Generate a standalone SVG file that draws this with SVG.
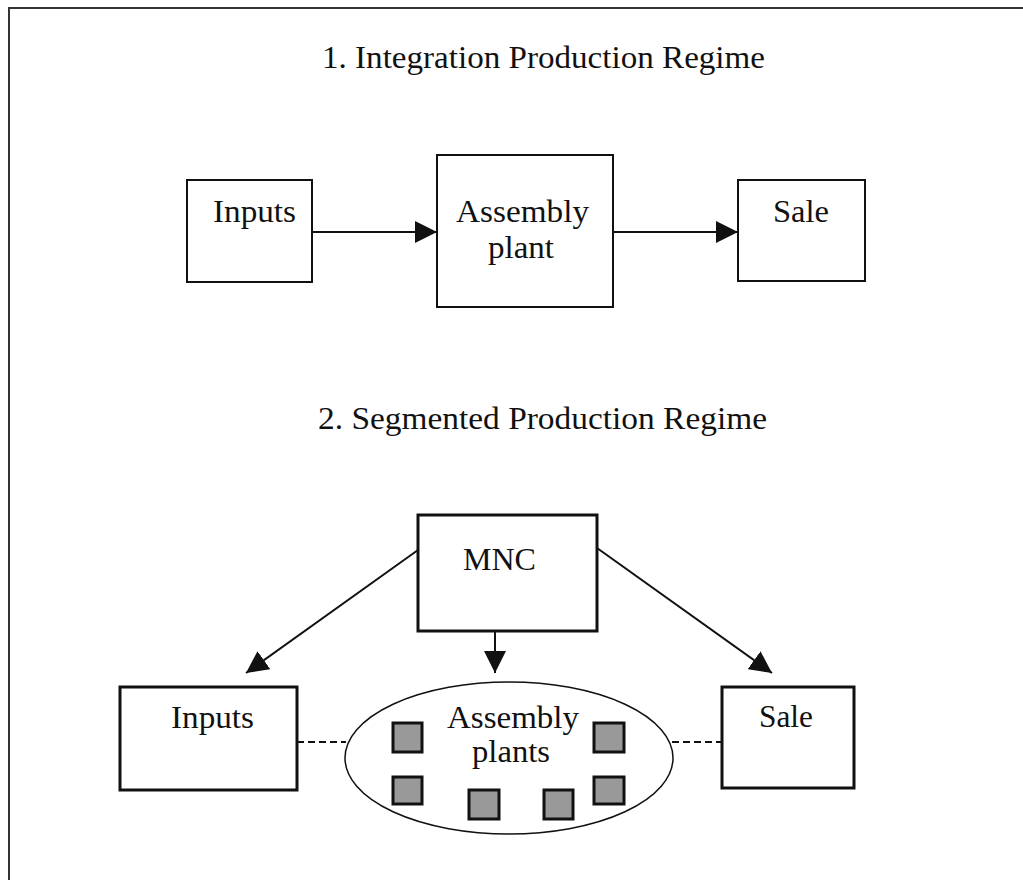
<svg xmlns="http://www.w3.org/2000/svg" width="1023" height="880" viewBox="0 0 1023 880">
  <style>
    text { font-family: "Liberation Serif", "Times New Roman", serif; font-size: 31px; fill: #111; }
    .thin { fill: #fff; stroke: #111; stroke-width: 2; }
    .thick { fill: #fff; stroke: #111; stroke-width: 3; }
    .plant { fill: #999; stroke: #111; stroke-width: 3; }
    .conn { fill: none; stroke: #111; stroke-width: 2; }
    .dash { fill: none; stroke: #111; stroke-width: 2; stroke-dasharray: 7 4; }
  </style>
  <defs>
    <marker id="arrow" viewBox="0 0 22 22" refX="22" refY="11" markerWidth="22" markerHeight="22" markerUnits="userSpaceOnUse" orient="auto">
      <path d="M0,0 L22,11 L0,22 Z" fill="#111"/>
    </marker>
  </defs>
  <rect width="1023" height="880" fill="#fff"/>
  <path d="M9,880 V8 H1023" fill="none" stroke="#333" stroke-width="2"/>

  <text x="322" y="68" textLength="443" lengthAdjust="spacingAndGlyphs">1. Integration Production Regime</text>
  <text x="318" y="429" textLength="449" lengthAdjust="spacingAndGlyphs">2. Segmented Production Regime</text>

  <g id="connectors">
    <line class="conn" x1="312" y1="232" x2="437" y2="232" marker-end="url(#arrow)"/>
    <line class="conn" x1="613" y1="232" x2="738" y2="232" marker-end="url(#arrow)"/>
    <line class="conn" x1="418" y1="550" x2="246" y2="673" marker-end="url(#arrow)"/>
    <line class="conn" x1="597" y1="548" x2="772" y2="673" marker-end="url(#arrow)"/>
    <line class="conn" x1="495" y1="624" x2="495" y2="673" marker-end="url(#arrow)"/>
    <line class="dash" x1="297" y1="742" x2="346" y2="742"/>
    <line class="dash" x1="672" y1="742" x2="722" y2="742"/>
  </g>

  <g id="inputs1">
    <rect class="thin" x="187" y="180" width="125" height="102"/>
    <text x="213" y="222" textLength="83" lengthAdjust="spacingAndGlyphs">Inputs</text>
  </g>
  <g id="assembly1">
    <rect class="thin" x="437" y="155" width="176" height="152"/>
    <text x="456" y="222" textLength="133" lengthAdjust="spacingAndGlyphs">Assembly</text>
    <text x="488" y="258" textLength="66" lengthAdjust="spacingAndGlyphs">plant</text>
  </g>
  <g id="sale1">
    <rect class="thin" x="738" y="180" width="127" height="101"/>
    <text x="773" y="222" textLength="56" lengthAdjust="spacingAndGlyphs">Sale</text>
  </g>

  <g id="mnc">
    <rect class="thick" x="418" y="515" width="179" height="116"/>
    <text x="463" y="570" textLength="73" lengthAdjust="spacingAndGlyphs">MNC</text>
  </g>
  <g id="inputs2">
    <rect class="thick" x="120" y="687" width="177" height="103"/>
    <text x="171" y="728" textLength="83" lengthAdjust="spacingAndGlyphs">Inputs</text>
  </g>
  <g id="sale2">
    <rect class="thick" x="722" y="687" width="132" height="101"/>
    <text x="759" y="727" textLength="54" lengthAdjust="spacingAndGlyphs">Sale</text>
  </g>
  <g id="assembly-plants">
    <ellipse cx="509" cy="758" rx="164" ry="76" fill="#fff" stroke="#111" stroke-width="1.5"/>
    <rect class="plant" x="393" y="723" width="29" height="29"/>
    <rect class="plant" x="393" y="777" width="29" height="27"/>
    <rect class="plant" x="469" y="790" width="30" height="29"/>
    <rect class="plant" x="544" y="790" width="29" height="29"/>
    <rect class="plant" x="594" y="723" width="30" height="29"/>
    <rect class="plant" x="594" y="777" width="30" height="27"/>
    <text x="447" y="728" textLength="132" lengthAdjust="spacingAndGlyphs">Assembly</text>
    <text x="472" y="762" textLength="78" lengthAdjust="spacingAndGlyphs">plants</text>
  </g>
</svg>
